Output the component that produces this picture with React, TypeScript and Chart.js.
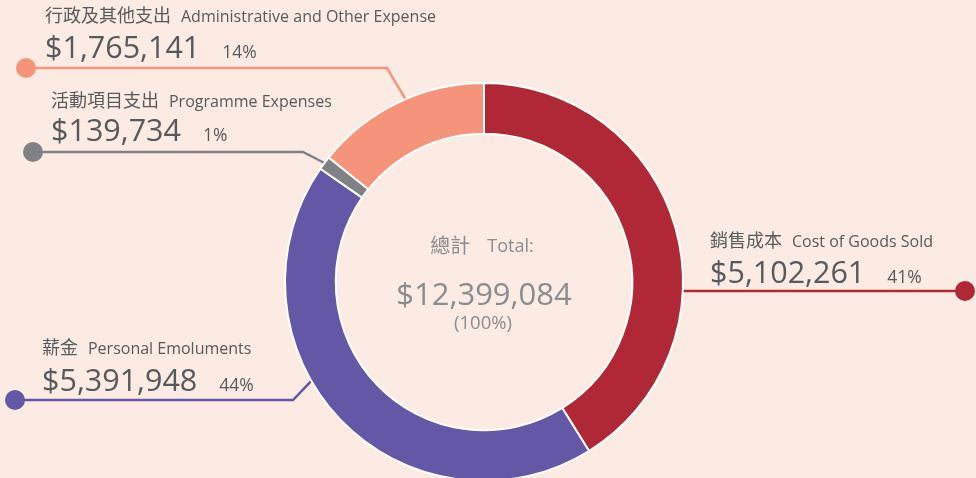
import { useEffect, useRef } from 'react';
import { Chart, registerables } from 'chart.js';

Chart.register(...registerables);

// ---- data ----
const categoriesZh = ['銷售成本', '薪金', '活動項目支出', '行政及其他支出'];
const categoriesEn = ['Cost of Goods Sold', 'Personal Emoluments', 'Programme Expenses', 'Administrative and Other Expense'];
const amounts = [5102261, 5391948, 139734, 1765141];
const percentLabels = ['41%', '44%', '1%', '14%'];
const totalZh = '總計';
const totalEn = 'Total:';
const totalPercent = '(100%)';

// ---- style ----
const colors = ['#b02836', '#6458a6', '#808185', '#f5947a'];
const BG = '#fcebe3';
const TEXT = '#58595b';
const CENTER_TEXT = '#8b8c8e';
const CJK = '"Noto Sans CJK TC", "Noto Sans CJK SC", sans-serif';
const LATIN = '"Open Sans", "Noto Sans", sans-serif';

// callout layout (positions of the labels, dots and elbows; anchor = fraction along the arc)
const callouts = [
  { x: 710, labelY: 247, valueY: 283, dotX: 965, dotY: 291, elbowX: null, frac: 0.623 },
  { x: 42, labelY: 354, valueY: 391, dotX: 15, dotY: 400, elbowX: 293, frac: 0.588 },
  { x: 51, labelY: 107, valueY: 141, dotX: 33, dotY: 152, elbowX: 303, frac: 0.5 },
  { x: 45, labelY: 22, valueY: 58, dotX: 26, dotY: 68, elbowX: 387, frac: 0.547 },
];

const fmt = (n: number) => '$' + n.toLocaleString('en-US');

export default function App() {
  const ref = useRef<HTMLCanvasElement>(null);

  useEffect(() => {
    const anchorOf = (chart: any, i: number) => {
      const arc = chart.getDatasetMeta(0).data[i];
      const p = arc.getProps(['x', 'y', 'startAngle', 'endAngle', 'outerRadius'], true);
      const a = p.startAngle + callouts[i].frac * (p.endAngle - p.startAngle);
      return { x: p.x + Math.cos(a) * p.outerRadius, y: p.y + Math.sin(a) * p.outerRadius };
    };

    const plugin = {
      id: 'callouts',
      beforeDatasetsDraw(chart: any) {
        const ctx = chart.ctx;
        ctx.save();
        callouts.forEach((c, i) => {
          const an = anchorOf(chart, i);
          const ex = c.elbowX === null ? an.x : c.elbowX;
          ctx.strokeStyle = colors[i];
          ctx.lineWidth = 2.5;
          ctx.lineJoin = 'miter';
          ctx.beginPath();
          ctx.moveTo(c.dotX, c.dotY);
          ctx.lineTo(ex, c.dotY);
          ctx.lineTo(an.x, an.y);
          ctx.stroke();
          ctx.fillStyle = colors[i];
          ctx.beginPath();
          ctx.arc(c.dotX, c.dotY, 10, 0, Math.PI * 2);
          ctx.fill();
        });
        ctx.restore();
      },
      afterDatasetsDraw(chart: any) {
        const ctx = chart.ctx;
        ctx.save();
        ctx.textBaseline = 'alphabetic';
        ctx.textAlign = 'left';
        callouts.forEach((c, i) => {
          ctx.fillStyle = TEXT;
          ctx.font = `18px ${CJK}`;
          ctx.fillText(categoriesZh[i], c.x, c.labelY);
          const zw = ctx.measureText(categoriesZh[i]).width;
          ctx.font = `16px ${LATIN}`;
          ctx.fillText(categoriesEn[i], c.x + zw + 10, c.labelY);
          ctx.font = `30.5px ${LATIN}`;
          const v = fmt(amounts[i]);
          ctx.fillText(v, c.x, c.valueY);
          const vw = ctx.measureText(v).width;
          ctx.font = `17.5px ${LATIN}`;
          ctx.fillText(percentLabels[i], c.x + vw + 22, c.valueY);
        });
        // center
        const meta = chart.getDatasetMeta(0).data[0];
        const cx = meta.x;
        const cy = meta.y;
        ctx.fillStyle = CENTER_TEXT;
        ctx.font = `20px ${CJK}`;
        const w1 = ctx.measureText(totalZh).width;
        ctx.font = `18px ${LATIN}`;
        const w2 = ctx.measureText(totalEn).width;
        const gap = 17;
        const start = cx - 2 - (w1 + gap + w2) / 2;
        ctx.font = `20px ${CJK}`;
        ctx.fillText(totalZh, start, cy - 29);
        ctx.font = `18px ${LATIN}`;
        ctx.fillText(totalEn, start + w1 + gap, cy - 30);
        ctx.textAlign = 'center';
        ctx.font = `31px ${LATIN}`;
        const total = amounts.reduce((s, n) => s + n, 0);
        ctx.fillText(fmt(total), cx, cy + 23);
        ctx.font = `18.5px ${LATIN}`;
        ctx.fillText(totalPercent, cx - 1, cy + 47);
        ctx.restore();
      },
    };

    const chart = new Chart(ref.current as HTMLCanvasElement, {
      type: 'doughnut',
      data: {
        labels: categoriesEn,
        datasets: [
          {
            data: amounts,
            backgroundColor: colors,
            borderColor: '#ffffff',
            borderWidth: 2,
            hoverOffset: 0,
          },
        ],
      },
      options: {
        responsive: false,
        animation: false,
        cutout: '74.5%',
        events: [],
        layout: { padding: { top: 82, bottom: 84, left: 284, right: 292 } },
        plugins: { legend: { display: false }, tooltip: { enabled: false } },
      },
      plugins: [plugin],
    } as any);
    return () => chart.destroy();
  }, []);

  return (
    <div
      style={{
        position: 'fixed',
        left: 0,
        top: 0,
        width: 976,
        height: 478,
        overflow: 'hidden',
        background: BG,
      }}
    >
      <canvas ref={ref} width={976} height={566} style={{ display: 'block', width: 976, height: 566 }} />
    </div>
  );
}
